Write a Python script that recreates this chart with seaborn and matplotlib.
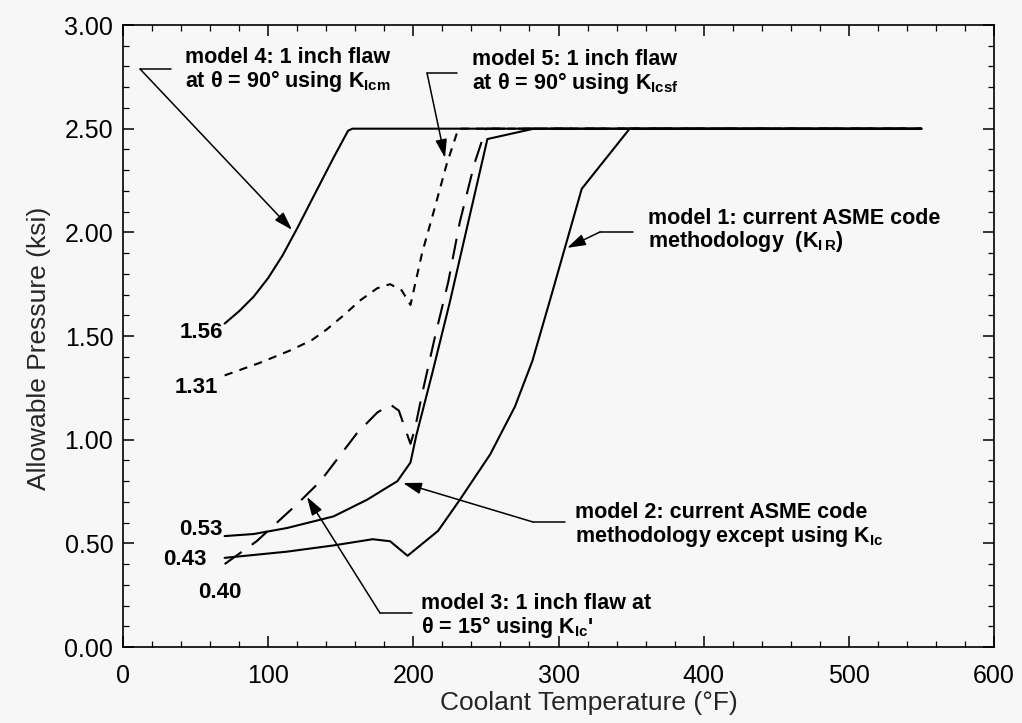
import numpy as np
import pandas as pd
import matplotlib
matplotlib.use("Agg")
import matplotlib.pyplot as plt
from matplotlib.ticker import MultipleLocator, FormatStrFormatter
import seaborn as sns

# ---- data: allowable pressure (ksi) vs coolant temperature (°F) ----
temp_m1 = [70, 113, 145, 172, 184, 196, 217, 232, 253, 270, 282, 294, 316, 349, 550]
pres_m1 = [0.43, 0.46, 0.49, 0.52, 0.51, 0.44, 0.56, 0.71, 0.93, 1.16, 1.38, 1.67, 2.21, 2.50, 2.50]

temp_m2 = [70, 90, 113, 145, 168, 189, 198, 202, 213, 225, 251, 283, 550]
pres_m2 = [0.535, 0.545, 0.574, 0.63, 0.71, 0.80, 0.89, 1.02, 1.32, 1.66, 2.45, 2.50, 2.50]

temp_m3 = [70, 92, 120, 136, 161, 175, 184, 190, 198, 201, 206, 215, 224, 232, 242, 250, 550]
pres_m3 = [0.40, 0.51, 0.69, 0.80, 1.03, 1.13, 1.17, 1.14, 0.98, 1.05, 1.22, 1.50, 1.76, 2.05, 2.33, 2.50, 2.50]

temp_m4 = [70, 80, 90, 100, 110, 120, 131, 145, 155, 158, 550]
pres_m4 = [1.56, 1.62, 1.69, 1.78, 1.89, 2.02, 2.17, 2.36, 2.49, 2.50, 2.50]

temp_m5 = [70, 94, 115, 130, 140, 152, 163, 175, 184, 192, 198, 206, 214, 223, 231, 550]
pres_m5 = [1.31, 1.37, 1.43, 1.48, 1.53, 1.60, 1.67, 1.73, 1.75, 1.72, 1.65, 1.90, 2.10, 2.33, 2.50, 2.50]

start_labels = ["1.56", "1.31", "0.53", "0.43", "0.40"]

x_ticks = [0, 100, 200, 300, 400, 500, 600]
y_ticks = [0.0, 0.5, 1.0, 1.5, 2.0, 2.5, 3.0]

frames = []
for name, t, p in [("model 1", temp_m1, pres_m1), ("model 2", temp_m2, pres_m2),
                   ("model 3", temp_m3, pres_m3), ("model 4", temp_m4, pres_m4),
                   ("model 5", temp_m5, pres_m5)]:
    frames.append(pd.DataFrame({"temp": t, "pressure": p, "model": name}))
df = pd.concat(frames, ignore_index=True)

# ---- styling ----
sns.set_theme(style="ticks")
bg = "#f7f7f7"
plt.rcParams.update({
    "font.family": ["Liberation Sans", "DejaVu Sans"],
    "mathtext.fontset": "custom",
    "mathtext.rm": "Liberation Sans",
    "mathtext.it": "Liberation Sans:italic",
    "mathtext.bf": "Liberation Sans:bold",
    "figure.facecolor": bg,
    "axes.facecolor": bg,
    "axes.edgecolor": "black",
    "axes.linewidth": 1.2,
})

fig = plt.figure(figsize=(10.22, 7.23), dpi=100)
ax = fig.add_axes([0.1204, 0.1051, 0.9726 - 0.1204, 0.9654 - 0.1051])

line_styles = {
    "model 1": "-",
    "model 2": "-",
    "model 3": (0, (10, 6)),
    "model 4": "-",
    "model 5": (0, (4, 3.5)),
}
for name, sub in df.groupby("model", sort=False):
    sns.lineplot(data=sub, x="temp", y="pressure", ax=ax, color="black",
                 linewidth=1.5, linestyle=line_styles[name],
                 estimator=None, sort=False, legend=False)

ax.set_xlim(0, 600)
ax.set_ylim(0, 3.0)
ax.set_xticks(x_ticks)
ax.set_yticks(y_ticks)
ax.xaxis.set_minor_locator(MultipleLocator(20))
ax.yaxis.set_minor_locator(MultipleLocator(0.1))
ax.yaxis.set_major_formatter(FormatStrFormatter("%.2f"))
ax.tick_params(which="both", direction="in", top=True, right=True,
               labelsize=18, colors="black")
ax.tick_params(which="major", length=8, width=1.1)
ax.tick_params(which="minor", length=4, width=0.9)
ax.tick_params(axis="y", which="major", pad=7)
ax.tick_params(axis="x", which="major", pad=12)
for s in ax.spines.values():
    s.set_visible(True)
    s.set_color("black")

ax.set_xlabel("Coolant Temperature (°F)", fontsize=19)
ax.set_ylabel("Allowable Pressure (ksi)", fontsize=19)
ax.xaxis.set_label_coords(0.535, -0.07)
ax.yaxis.set_label_coords(-0.083, 0.48)

# ---- starting values at the left end of each curve ----
start_pos = [(68.9, 1.491), (65.7, 1.227), (68.7, 0.540), (57.2, 0.396), (81.8, 0.236)]
for txt, (x, y) in zip(start_labels, start_pos):
    ax.text(x, y, txt, ha="right", va="baseline", fontsize=16,
            fontweight="bold", color="black")

# ---- callouts: two-line bold text, a short horizontal leader and an arrow ----
# text is anchored at the baseline of its second line
bold = dict(fontsize=15.5, fontweight="bold", color="black", linespacing=1.02)
arrow = dict(arrowstyle="-|>,head_length=0.8,head_width=0.25", color="black",
             lw=1.1, shrinkA=0, shrinkB=0, mutation_scale=14)


def callout(text, text_x, base2, h_start, h_end, h_y, tip):
    ax.text(text_x, base2, text, ha="left", va="baseline", **bold)
    ax.plot([h_start, h_end], [h_y, h_y], color="black", lw=1.1)
    ax.annotate("", xy=tip, xytext=(h_end, h_y), arrowprops=arrow)


callout("model 4: 1 inch flaw\nat θ = 90° using K$_{\\mathbf{Icm}}$",
        42.7, 2.701, 33.1, 11.7, 2.788, (116.4, 2.012))
callout("model 5: 1 inch flaw\nat θ = 90° using K$_{\\mathbf{Icsf}}$",
        240.2, 2.690, 230.1, 209.4, 2.769, (221.8, 2.359))
callout("model 1: current ASME code\nmethodology  (K$_{\\mathbf{I\\,R}}$)",
        361.9, 1.930, 351.3, 328.6, 2.002, (305.9, 1.925))
callout("model 2: current ASME code\nmethodology except using K$_{\\mathbf{Ic}}$",
        311.4, 0.508, 304.5, 282.4, 0.603, (192.9, 0.791))
callout("model 3: 1 inch flaw at\nθ = 15° using K$_{\\mathbf{Ic}}$'",
        205.0, 0.067, 199.1, 177.0, 0.164, (126.7, 0.724))

fig.savefig("out.png", dpi=100, facecolor=bg)
